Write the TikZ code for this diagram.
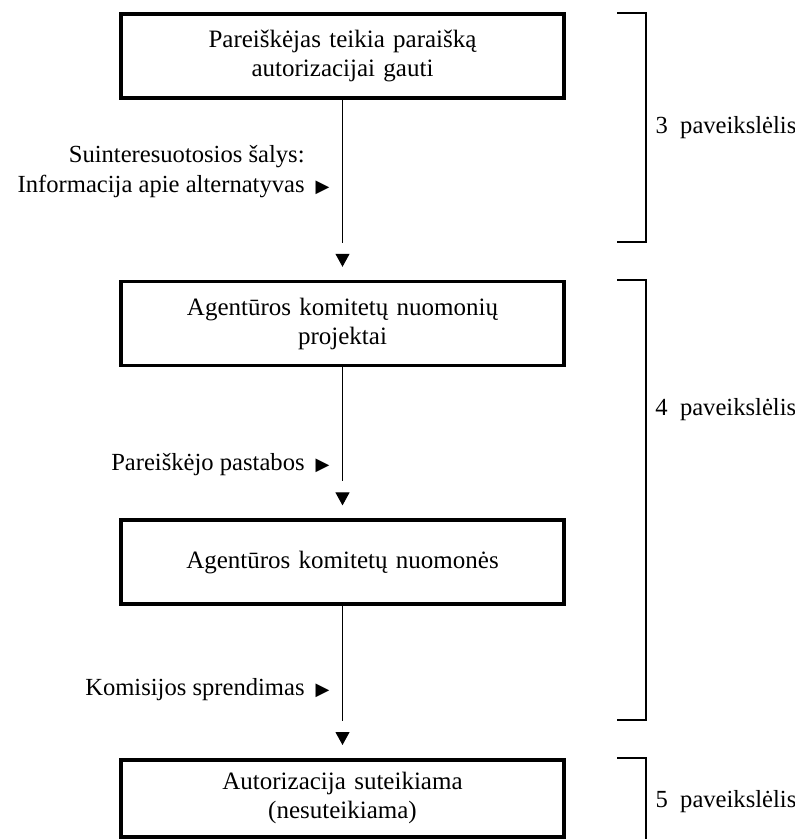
\documentclass[tikz,border=0pt]{standalone}
\usepackage{fontspec}
\setmainfont{Liberation Serif}
\newfontfamily\symfont{DejaVu Sans}
\usetikzlibrary{positioning,arrows.meta,decorations.markings}

\newcommand{\tri}{\rlap{\hspace{0.45em}{\symfont\fontsize{9}{9}\selectfont ▶}}}

\begin{document}
\begin{tikzpicture}[x=0.5pt,y=-0.5pt,
    box/.style={draw, line width=1.8pt, minimum width=221.5pt, minimum height=42pt,
      text width=210pt, align=center, font=\fontsize{12.5}{14.5}\selectfont},
    note/.style={inner sep=0pt, align=right, anchor=east, font=\fontsize{12.3}{15}\selectfont},
    flow/.style={line width=0.5pt, shorten >=18.5pt,
      decoration={markings, mark=at position -6.5pt with {\arrow{Triangle[length=6.5pt,width=7pt]}}},
      postaction={decorate}},
    brace/.style={line width=0.6pt},
    fig/.style={anchor=west, inner sep=4.5pt, font=\fontsize{12.3}{15}\selectfont}
  ]
  \useasboundingbox (0,0) rectangle (794,839);

  % the four stages
  \node[box] (apply) at (342.5,56) {Pareiškėjas teikia paraišką\\autorizacijai gauti};
  \node[box, below=90pt of apply] (draft) {Agentūros komitetų nuomonių\\projektai};
  \node[box, below=75.5pt of draft] (opin) {Agentūros komitetų nuomonės};
  \node[box, below=76pt of opin, minimum height=38.5pt] (auth) {Autorizacija suteikiama\\(nesuteikiama)};

  \draw[flow] (apply) -- (draft);
  \draw[flow] (draft) -- (opin);
  \draw[flow] (opin) -- (auth);

  % inputs on the left
  \node[note] (info) at (305,172) {Suinteresuotosios šalys:\\Informacija apie alternatyvas\tri};
  \node[note] (remark) at (305,465) {Pareiškėjo pastabos\tri};
  \node[note] (decis) at (305,690) {Komisijos sprendimas\tri};

  % brackets on the right
  \draw[brace] (617,13) -- (646,13) -- node[fig] (fig3) {3\enspace paveikslėlis} (646,242) -- (617,242);
  \draw[brace] (617,280) -- (646,280) -- (646,720) -- (617,720);
  \node[fig] (fig4) at (646,410) {4\enspace paveikslėlis};
  \draw[brace] (617,758) -- (646,758) -- node[fig] (fig5) {5\enspace paveikslėlis} (646,845);
\end{tikzpicture}
\end{document}
